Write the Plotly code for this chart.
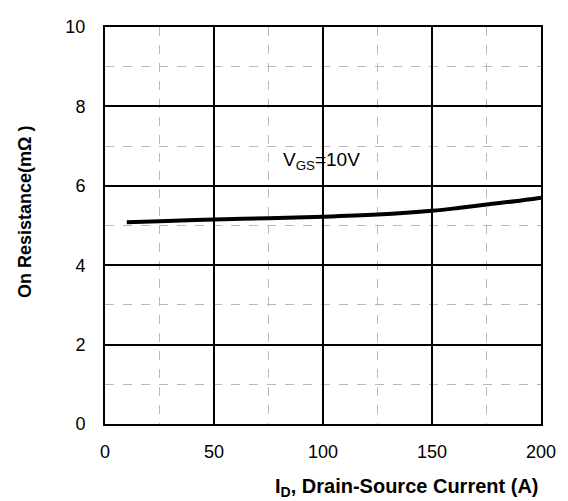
import plotly.graph_objects as go

# Drain current (A) and on-resistance (mOhm) at VGS = 10 V
drain_current = [10, 25, 50, 75, 100, 125, 150, 162, 175, 188, 200]
on_resistance = [5.08, 5.11, 5.15, 5.185, 5.22, 5.275, 5.37, 5.44, 5.53, 5.61, 5.70]

x_ticks = [0, 50, 100, 150, 200]
y_ticks = [0, 2, 4, 6, 8, 10]

FONT = "Liberation Sans, Arial, sans-serif"

fig = go.Figure()
fig.add_trace(go.Scatter(
    x=drain_current, y=on_resistance, mode="lines",
    line=dict(color="black", width=4, shape="spline", smoothing=1.0),
    showlegend=False,
))

axis_common = dict(
    showline=True, linecolor="black", linewidth=2, mirror=True,
    showgrid=True, gridcolor="black", gridwidth=1.5,
    ticks="", zeroline=False,
    tickfont=dict(family=FONT, size=18, color="black"),
)

fig.update_xaxes(
    range=[0, 200], tickvals=x_ticks, ticktext=[str(v) for v in x_ticks],
    ticklabelstandoff=10,
    minor=dict(dtick=25, tick0=0, showgrid=True, gridcolor="#b8b8b8",
               griddash="dash", gridwidth=1),
    **axis_common,
)
fig.update_yaxes(
    range=[0, 10], tickvals=y_ticks, ticktext=[str(v) for v in y_ticks],
    ticklabelstandoff=14,
    minor=dict(dtick=1, tick0=0, showgrid=True, gridcolor="#b8b8b8",
               griddash="dash", gridwidth=1),
    **axis_common,
)

fig.add_annotation(
    x=99.5, y=6.63, xref="x", yref="y", showarrow=False,
    text="V<sub>GS</sub>=10V",
    font=dict(family=FONT, size=19, color="black"),
)
fig.add_annotation(
    x=1.0, y=-0.16, xref="paper", yref="paper", xanchor="right", yanchor="middle",
    showarrow=False,
    text="<b>I<sub>D</sub>, Drain-Source Current (A)</b>",
    font=dict(family=FONT, size=20, color="black"),
)
fig.add_annotation(
    x=-0.185, y=0.535, xref="paper", yref="paper", xanchor="center", yanchor="middle",
    showarrow=False, textangle=-90,
    text="<b>On Resistance(mΩ )</b>",
    font=dict(family=FONT, size=18, color="black"),
)

fig.update_layout(
    width=568, height=501,
    margin=dict(l=105, r=23, t=27, b=77),
    plot_bgcolor="white", paper_bgcolor="white",
)

fig.write_html("out.html")
